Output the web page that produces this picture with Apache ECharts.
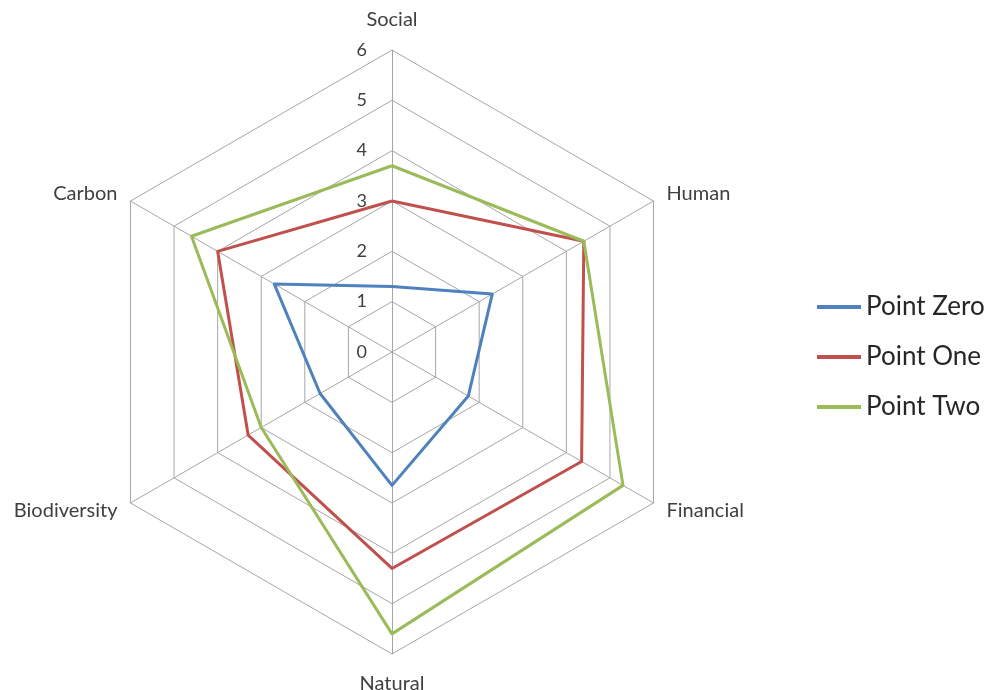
<!DOCTYPE html>
<html>
<head>
<meta charset="utf-8">
<script src="https://cdn.jsdelivr.net/npm/echarts@6/dist/echarts.min.js"></script>
<style>html,body{margin:0;padding:0;background:#fff;}#chart{width:989px;height:690px;}</style>
</head>
<body>
<div id="chart"></div>
<script>
// Categories in clockwise order starting at the top
var categories = ['Social', 'Human', 'Financial', 'Natural', 'Biodiversity', 'Carbon'];
var seriesNames = ['Point Zero', 'Point One', 'Point Two'];
var pointZero = [1.3, 2.3, 1.75, 2.65, 1.65, 2.7];
var pointOne  = [3.0, 4.4, 4.35, 4.3, 3.3, 4.0];
var pointTwo  = [3.7, 4.4, 5.3, 5.6, 3.0, 4.6];
var tickLabels = ['0', '1', '2', '3', '4', '5', '6'];
var colors = ['#4F81BD', '#C0504D', '#9BBB59'];

// ECharts radar lays indicators counterclockwise; reorder to get clockwise layout
function ccw(arr) { return [arr[0]].concat(arr.slice(1).reverse()); }

var chart = echarts.init(document.getElementById('chart'), null, {renderer: 'canvas'});
var font = 'Lato';
var gridColor = '#a6a6a6';
chart.setOption({
  animation: false,
  backgroundColor: '#ffffff',
  color: colors,
  legend: {
    orient: 'vertical',
    left: 812,
    top: 289,
    itemWidth: 44,
    itemHeight: 4,
    itemGap: 24,
    icon: 'rect',
    data: seriesNames,
    textStyle: {fontFamily: font, fontSize: 26, color: '#262626'}
  },
  grid: {left: 392, top: 50, height: 302, width: 1},
  xAxis: {type: 'value', show: false, min: 0, max: 1},
  yAxis: {
    type: 'value', min: 0, max: 6, interval: 1,
    axisLine: {show: false}, axisTick: {show: false}, splitLine: {show: false},
    axisLabel: {margin: 25, fontFamily: font, fontSize: 18, color: '#404040',
      formatter: function (v) { return tickLabels[Math.round(v)]; }}
  },
  radar: {
    center: [392, 352],
    radius: 302,
    startAngle: 90,
    splitNumber: 6,
    shape: 'polygon',
    nameGap: 15,
    axisName: {fontFamily: font, fontSize: 20, color: '#404040', padding: [5, 0, 5, 0]},
    splitArea: {show: false},
    splitLine: {lineStyle: {color: gridColor, width: 1}},
    axisLine: {lineStyle: {color: gridColor, width: 1}},
    axisTick: {show: false},
    axisLabel: {show: false},
    indicator: ccw(categories).map(function (c) { return {name: c, min: 0, max: 6}; })
  },
  series: [{
    type: 'radar',
    symbol: 'none',
    lineStyle: {width: 3},
    data: [
      {name: seriesNames[0], value: ccw(pointZero), lineStyle: {width: 3, color: colors[0]}, itemStyle: {color: colors[0]}},
      {name: seriesNames[1], value: ccw(pointOne), lineStyle: {width: 3, color: colors[1]}, itemStyle: {color: colors[1]}},
      {name: seriesNames[2], value: ccw(pointTwo), lineStyle: {width: 3, color: colors[2]}, itemStyle: {color: colors[2]}}
    ]
  }]
});
</script>
</body>
</html>
